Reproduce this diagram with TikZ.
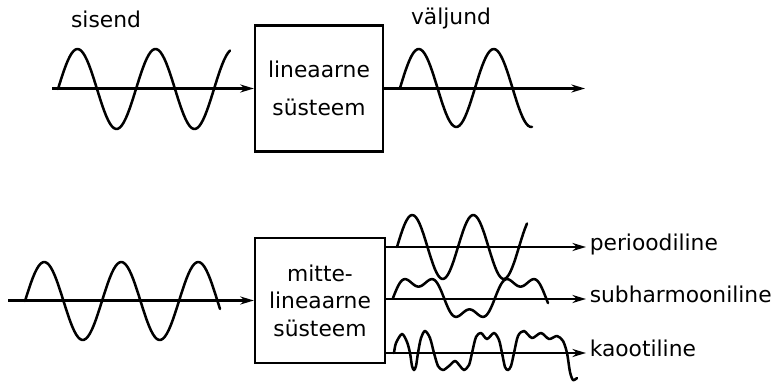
\documentclass[tikz,border=0pt]{standalone}
\usepackage{fontspec}
\setmainfont{DejaVu Sans}
\usetikzlibrary{arrows.meta,positioning}

\begin{document}
\begin{tikzpicture}[x=0.25mm,y=-0.25mm,
  sysbox/.style={draw,line width=1.6pt,minimum width=32mm,minimum height=31.5mm,align=center,font=\fontsize{15.5}{19.5}\selectfont},
  sig/.style={line width=1.6pt,-{Stealth[length=3.4mm,width=2mm]}},
  wave/.style={line width=1.8pt,line join=round,line cap=round},
  lbl/.style={font=\fontsize{15.5}{19}\selectfont,inner xsep=2.5pt,inner ysep=0pt,text height=0.75em,text depth=0.2em}]
  \useasboundingbox (0,0) rectangle (784,383);
  % Linear system
  \node[sysbox] (lin) at (319,88.5) {lineaarne\\[7pt]süsteem};
  \node[lbl] (sis) at (106,24) {sisend};
  \node[lbl] (val) at (451,21) {väljund};
  \coordinate (in1) at (52,88.5);
  \coordinate (out1) at (585,88.5);
  \draw[sig] (in1) -- (lin.west);
  \draw[sig] (lin.east) -- (out1);
  \draw[wave] plot[domain=58:230,samples=90] (\x,{89-40*sin((\x-58)/78*360)});
  \draw[wave] plot[domain=400:532,samples=70] (\x,{88-39*sin((\x-400)/75*360)});
  % Nonlinear system
  \node[sysbox,minimum width=32.5mm,minimum height=31.25mm] (nl) at (320,300.5) {mitte-\\lineaarne\\süsteem};
  \coordinate (in2) at (8,300.5);
  \draw[sig] (in2) -- (nl.west);
  \draw[wave] plot[domain=25:220,samples=100] (\x,{301-39*sin((\x-25)/77*360)});
  % Outputs
  \node[lbl,anchor=west] (per) at (586,247) {perioodiline};
  \node[lbl,anchor=west] (sub) at (586,299) {subharmooniline};
  \node[lbl,anchor=west] (kao) at (586,353) {kaootiline};
  \draw[sig] (nl.east |- per.west) -- (per.west);
  \draw[sig] (nl.east |- sub.west) -- (sub.west);
  \draw[sig] (nl.east |- kao.west) -- (kao.west);
  \draw[wave] plot[domain=397:527,samples=70] (\x,{247-32*sin((\x-397)/61*360)});
  \draw[wave] plot[domain=393:548,samples=120] (\x,{298-19*(sin((\x-393)/102*360)+0.4*sin((\x-393)/102*1080))});
  \draw[wave] plot[smooth,tension=0.5] coordinates {(394,353) (396,343) (402,334) (407,342) (410,353) (412,366) (414,370) (416,366) (418,353) (421,338) (425,331) (430,338) (434,353) (438,366) (443,370) (449,366) (455,361) (460,366) (464,370) (469,365) (472,353) (476,337) (481,333) (487,339) (494,333) (499,340) (502,353) (505,367) (508,370) (511,366) (514,353) (518,336) (524,331) (532,338) (541,333) (549,339) (557,336) (563,341) (567,353) (570,372) (573,380) (577,378)};
\end{tikzpicture}
\end{document}
